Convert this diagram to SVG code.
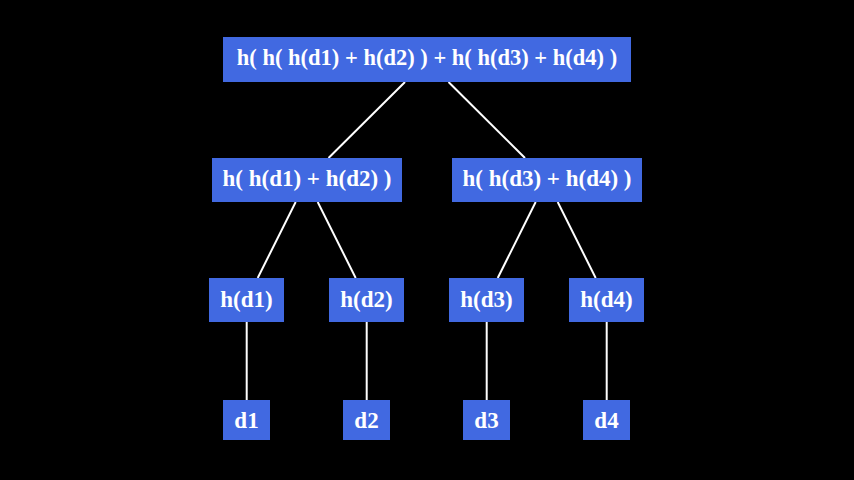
<svg xmlns="http://www.w3.org/2000/svg" width="854" height="480" viewBox="0 0 854 480">
<style>
.box{fill:#4169e1}
.t{fill:#ffffff;font-family:"Liberation Serif","Times New Roman",serif;font-weight:bold;font-size:23px;text-anchor:middle}
.c line{stroke:#ffffff;stroke-width:2}
</style>
<rect width="854" height="480" fill="#000000"/>
<g class="c" id="connectors">
<line x1="405" y1="82" x2="328.5" y2="158"/>
<line x1="448.5" y1="82" x2="525" y2="158"/>
<line x1="295.7" y1="202" x2="257.7" y2="278"/>
<line x1="317.7" y1="202" x2="355.7" y2="278"/>
<line x1="535.7" y1="202" x2="497.7" y2="278"/>
<line x1="557.7" y1="202" x2="595.7" y2="278"/>
<line x1="246.7" y1="322" x2="246.7" y2="400"/>
<line x1="366.7" y1="322" x2="366.7" y2="400"/>
<line x1="486.7" y1="322" x2="486.7" y2="400"/>
<line x1="606.7" y1="322" x2="606.7" y2="400"/>
</g>
<g id="root"><rect class="box" x="223" y="37" width="408" height="45"/><text class="t" x="427" y="65" style="font-size:22.5px">h( h( h(d1) + h(d2) ) + h( h(d3) + h(d4) )</text></g>
<g id="h12"><rect class="box" x="212" y="158" width="190" height="44"/><text class="t" x="307" y="186">h( h(d1) + h(d2) )</text></g>
<g id="h34"><rect class="box" x="452" y="158" width="190" height="44"/><text class="t" x="547" y="186">h( h(d3) + h(d4) )</text></g>
<g id="hd1"><rect class="box" x="209" y="278" width="75" height="44"/><text class="t" x="246.5" y="306.5">h(d1)</text></g>
<g id="hd2"><rect class="box" x="329" y="278" width="75" height="44"/><text class="t" x="366.5" y="306.5">h(d2)</text></g>
<g id="hd3"><rect class="box" x="449" y="278" width="75" height="44"/><text class="t" x="486.5" y="306.5">h(d3)</text></g>
<g id="hd4"><rect class="box" x="569" y="278" width="75" height="44"/><text class="t" x="606.5" y="306.5">h(d4)</text></g>
<g id="d1"><rect class="box" x="223" y="400" width="47" height="40"/><text class="t" x="246.5" y="427.5">d1</text></g>
<g id="d2"><rect class="box" x="343" y="400" width="47" height="40"/><text class="t" x="366.5" y="427.5">d2</text></g>
<g id="d3"><rect class="box" x="463" y="400" width="47" height="40"/><text class="t" x="486.5" y="427.5">d3</text></g>
<g id="d4"><rect class="box" x="583" y="400" width="47" height="40"/><text class="t" x="606.5" y="427.5">d4</text></g>
</svg>
